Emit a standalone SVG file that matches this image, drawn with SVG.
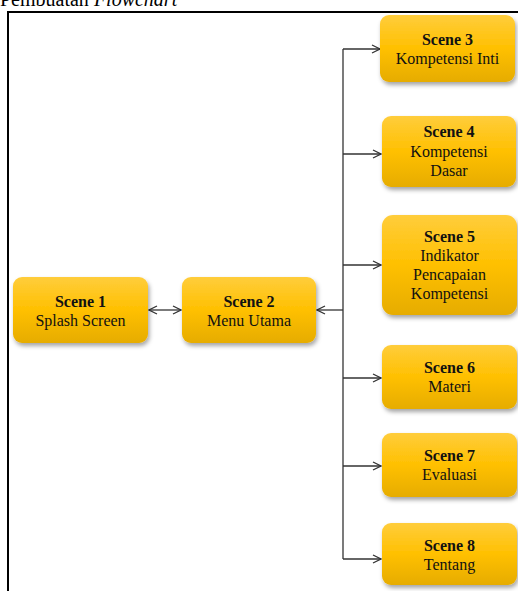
<svg xmlns="http://www.w3.org/2000/svg" width="518" height="591" viewBox="0 0 518 591">
<style>
.t{font-family:"Liberation Serif","Times New Roman",serif;font-size:16px;fill:#111;text-anchor:middle}
.b{font-weight:bold}
.box{fill:url(#g);filter:url(#sh)}
.c{fill:none;stroke:#333;stroke-width:1.3}
</style>
<defs>
<linearGradient id="g" x1="0" y1="0" x2="0" y2="1">
<stop offset="0" stop-color="#FFCD3C"/>
<stop offset="0.5" stop-color="#FFC000"/>
<stop offset="1" stop-color="#E6AC00"/>
</linearGradient>
<filter id="sh" x="-10%" y="-10%" width="130%" height="140%">
<feDropShadow dx="1.5" dy="3" stdDeviation="2" flood-color="#000" flood-opacity="0.35"/>
</filter>
<marker id="a" markerWidth="10" markerHeight="10" refX="9" refY="5" orient="auto-start-reverse" markerUnits="userSpaceOnUse">
<polyline points="1,1 9,5 1,9" fill="none" stroke="#333" stroke-width="1.3"/>
</marker>
</defs>
<text x="0" y="6" style="font-family:'Liberation Serif',serif;font-size:20px;fill:#000">Pembuatan <tspan font-style="italic">Flowchart</tspan></text>
<path d="M8,591 V12 H518" fill="none" stroke="#000" stroke-width="2"/>
<g id="connectors">
<line class="c" x1="149" y1="310" x2="181" y2="310" marker-start="url(#a)" marker-end="url(#a)"/>
<line class="c" x1="343" y1="310" x2="317" y2="310" marker-end="url(#a)"/>
<line class="c" x1="343" y1="49" x2="343" y2="559"/>
<line class="c" x1="343" y1="49" x2="380" y2="49" marker-end="url(#a)"/>
<line class="c" x1="343" y1="154" x2="381" y2="154" marker-end="url(#a)"/>
<line class="c" x1="343" y1="265" x2="381" y2="265" marker-end="url(#a)"/>
<line class="c" x1="343" y1="378" x2="381" y2="378" marker-end="url(#a)"/>
<line class="c" x1="343" y1="466" x2="381" y2="466" marker-end="url(#a)"/>
<line class="c" x1="343" y1="559" x2="381" y2="559" marker-end="url(#a)"/>
</g>
<g id="scene1">
<rect class="box" x="13" y="277" width="135" height="66" rx="9"/>
<text class="t b" x="80.5" y="306.5">Scene 1</text>
<text class="t" x="80.5" y="325.5">Splash Screen</text>
</g>
<g id="scene2">
<rect class="box" x="182" y="277" width="134" height="66" rx="9"/>
<text class="t b" x="249" y="306.5">Scene 2</text>
<text class="t" x="249" y="325.5">Menu Utama</text>
</g>
<g id="scene3">
<rect class="box" x="380" y="15" width="135" height="67" rx="9"/>
<text class="t b" x="447.5" y="45">Scene 3</text>
<text class="t" x="447.5" y="64">Kompetensi Inti</text>
</g>
<g id="scene4">
<rect class="box" x="382" y="116" width="134" height="71" rx="9"/>
<text class="t b" x="449" y="137">Scene 4</text>
<text class="t" x="449" y="156.5">Kompetensi</text>
<text class="t" x="449" y="176">Dasar</text>
</g>
<g id="scene5">
<rect class="box" x="382" y="215" width="135" height="100" rx="11"/>
<text class="t b" x="449.5" y="242">Scene 5</text>
<text class="t" x="449.5" y="261">Indikator</text>
<text class="t" x="449.5" y="280">Pencapaian</text>
<text class="t" x="449.5" y="299">Kompetensi</text>
</g>
<g id="scene6">
<rect class="box" x="382" y="345" width="135" height="64" rx="9"/>
<text class="t b" x="449.5" y="373">Scene 6</text>
<text class="t" x="449.5" y="392">Materi</text>
</g>
<g id="scene7">
<rect class="box" x="382" y="433" width="135" height="64" rx="9"/>
<text class="t b" x="449.5" y="461">Scene 7</text>
<text class="t" x="449.5" y="480">Evaluasi</text>
</g>
<g id="scene8">
<rect class="box" x="382" y="523" width="135" height="62" rx="9"/>
<text class="t b" x="449.5" y="551">Scene 8</text>
<text class="t" x="449.5" y="570">Tentang</text>
</g>
</svg>
